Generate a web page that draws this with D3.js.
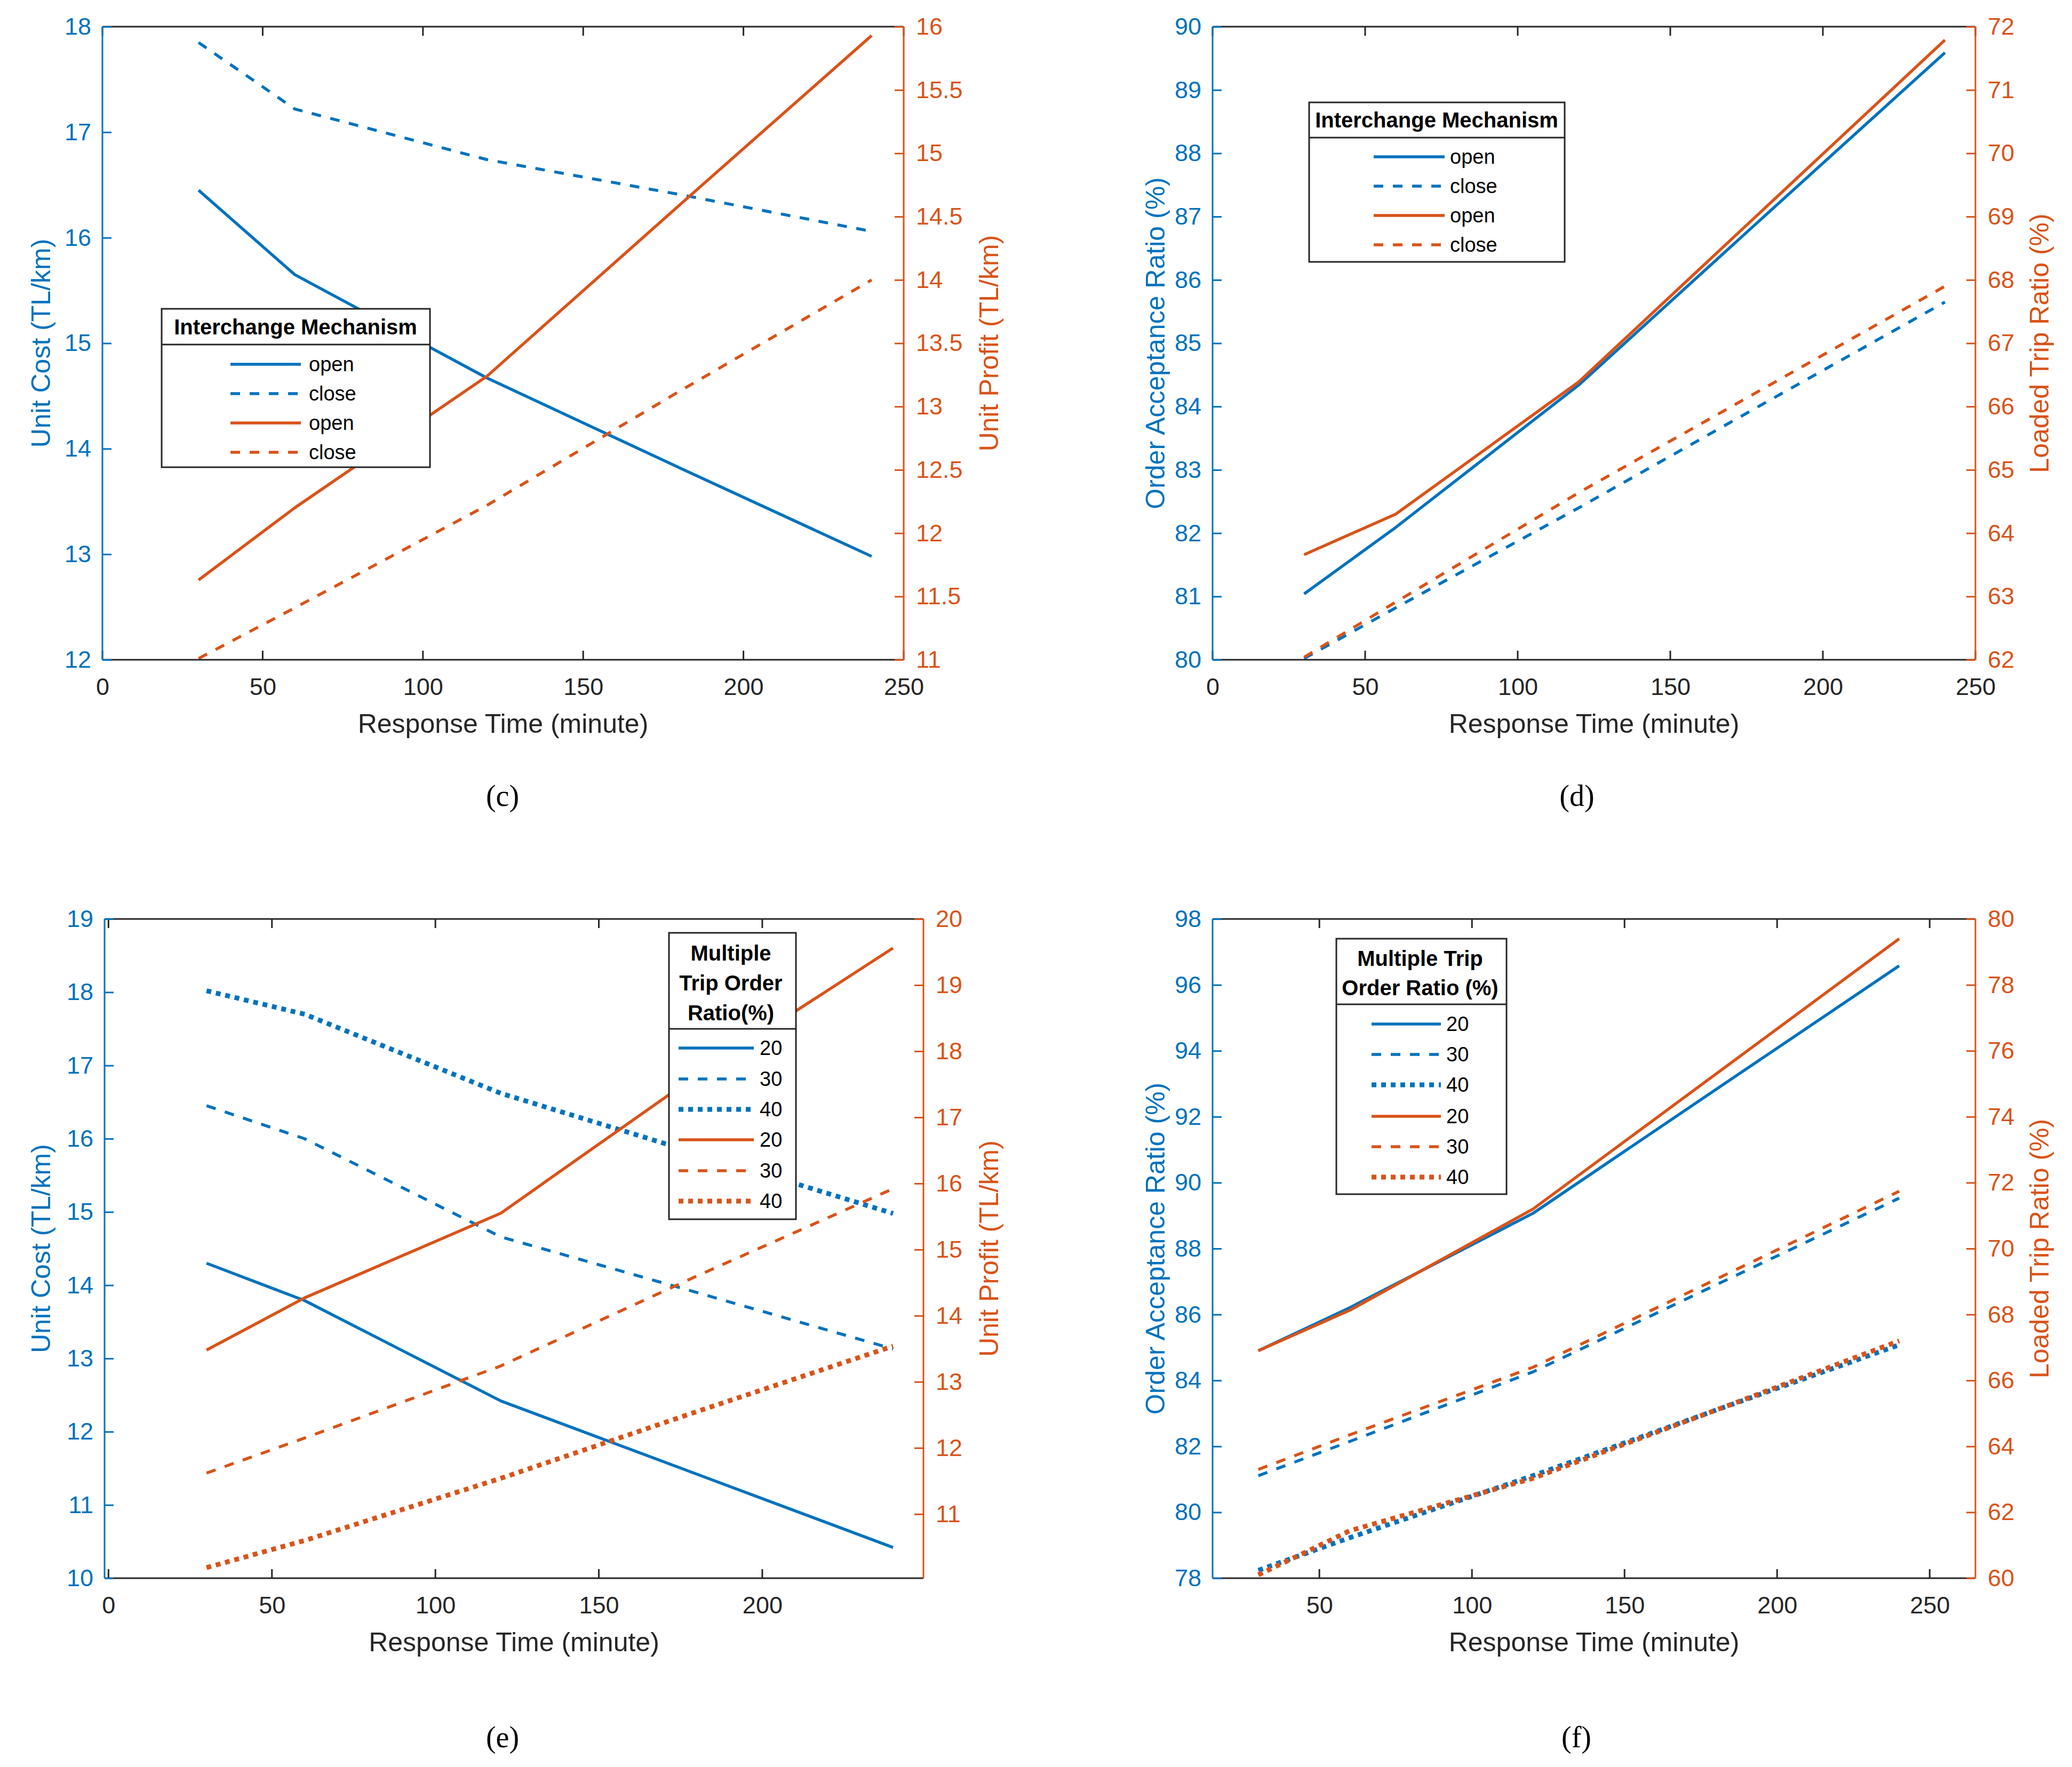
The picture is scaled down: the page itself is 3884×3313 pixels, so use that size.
<!DOCTYPE html>
<html><head><meta charset="utf-8">
<script src="https://cdn.jsdelivr.net/npm/d3@7"></script>
<style>body{margin:0;background:#fff} svg{display:block}</style>
</head><body>
<svg id="fig" width="3884" height="3313"></svg>
<script>
// ---------------- DATA ----------------
const responseTime = [30, 60, 120, 180, 240];

// (c) Unit cost / unit profit vs response time, interchange open/close
const cCostOpen    = [16.45, 15.65, 14.67, 13.82, 12.98];
const cCostClose   = [17.85, 17.22, 16.74, 16.41, 16.06];
const cProfitOpen  = [11.63, 12.20, 13.24, 14.59, 15.93];
const cProfitClose = [11.01, 11.41, 12.22, 13.12, 14.00];

// (d) Order acceptance / loaded trip ratio, interchange open/close
const dAccOpen   = [81.04, 82.09, 84.34, 86.97, 89.59];
const dAccClose  = [80.02, 80.82, 82.40, 84.03, 85.65];
const dLoadOpen  = [63.66, 64.30, 66.39, 69.09, 71.79];
const dLoadClose = [62.04, 62.91, 64.64, 66.27, 67.90];

// (e) Unit cost / unit profit, multiple trip order ratio 20/30/40
const eCost20   = [14.30, 13.79, 12.42, 11.42, 10.42];
const eCost30   = [16.45, 16.00, 14.66, 13.90, 13.13];
const eCost40   = [18.02, 17.70, 16.62, 15.80, 14.98];
const eProfit20 = [13.48, 14.27, 15.55, 17.64, 19.56];
const eProfit30 = [11.62, 12.15, 13.24, 14.60, 15.92];
const eProfit40 = [10.19, 10.60, 11.54, 12.55, 13.54];

// (f) Order acceptance / loaded trip ratio, multiple trip order ratio 20/30/40
const fAcc20  = [84.90, 86.21, 89.07, 92.83, 96.58];
const fAcc30  = [81.11, 82.15, 84.26, 86.90, 89.53];
const fAcc40  = [78.24, 79.23, 81.11, 83.10, 85.08];
const fLoad20 = [66.90, 68.13, 71.20, 75.30, 79.40];
const fLoad30 = [63.30, 64.35, 66.40, 69.07, 71.74];
const fLoad40 = [60.10, 61.44, 63.03, 65.10, 67.20];

const interchangeLabels = ["open", "close"];
const tripRatioLabels = ["20", "30", "40"];

// tick labels
const cXTicks = [0, 50, 100, 150, 200, 250];
const cLeftTicks = [12, 13, 14, 15, 16, 17, 18];
const cRightTicks = [11, 11.5, 12, 12.5, 13, 13.5, 14, 14.5, 15, 15.5, 16];
const dXTicks = [0, 50, 100, 150, 200, 250];
const dLeftTicks = [80, 81, 82, 83, 84, 85, 86, 87, 88, 89, 90];
const dRightTicks = [62, 63, 64, 65, 66, 67, 68, 69, 70, 71, 72];
const eXTicks = [0, 50, 100, 150, 200];
const eLeftTicks = [10, 11, 12, 13, 14, 15, 16, 17, 18, 19];
const eRightTicks = [11, 12, 13, 14, 15, 16, 17, 18, 19, 20];
const fXTicks = [50, 100, 150, 200, 250];
const fLeftTicks = [78, 80, 82, 84, 86, 88, 90, 92, 94, 96, 98];
const fRightTicks = [60, 62, 64, 66, 68, 70, 72, 74, 76, 78, 80];

// ---------------- STYLE ----------------
const BLUE = "#0072BD", ORANGE = "#D95319", DARK = "#262626";
const SANS = "'Liberation Sans', Arial, Helvetica, sans-serif";
const SERIF = "'Liberation Serif', 'Times New Roman', serif";
const STYLES = {
  solid:  {w: 5.5, dash: null},
  dashed: {w: 5.5, dash: "18,18"},
  dotted: {w: 9,   dash: "9,9"}
};

const svg = d3.select("#fig");
svg.append("rect").attr("width", 3884).attr("height", 3313).attr("fill", "#fff");

function panel(cfg) {
  const g = svg.append("g");
  const {L, R, T, B} = cfg.box;
  const x = d3.scaleLinear().domain(cfg.xDomain).range([L, R]);
  const yl = d3.scaleLinear().domain(cfg.leftDomain).range([B, T]);
  const yr = d3.scaleLinear().domain(cfg.rightDomain).range([B, T]);
  const TL = 17;

  // lines
  cfg.series.forEach(s => {
    const y = s.axis === "left" ? yl : yr;
    const st = STYLES[s.style];
    const line = d3.line().x((d, i) => x(responseTime[i])).y(d => y(d));
    g.append("path").datum(s.values)
      .attr("d", line).attr("fill", "none")
      .attr("stroke", s.axis === "left" ? BLUE : ORANGE)
      .attr("stroke-width", st.w)
      .attr("stroke-dasharray", st.dash)
      .attr("stroke-linejoin", "round");
  });

  // x axes (bottom + top, ticks inward)
  const xb = g.append("g").attr("transform", `translate(0,${B})`)
    .call(d3.axisBottom(x).tickValues(cfg.xTicks).tickSize(0).tickPadding(0).tickFormat(d3.format("d")));
  xb.select(".domain").remove();
  xb.selectAll("text").attr("y", 50).attr("dy", "0.35em")
    .attr("fill", DARK).attr("font-size", 45).attr("font-family", SANS);
  cfg.xTicks.forEach(t => {
    g.append("line").attr("x1", x(t)).attr("x2", x(t)).attr("y1", B).attr("y2", B - TL)
      .attr("stroke", DARK).attr("stroke-width", 3);
    g.append("line").attr("x1", x(t)).attr("x2", x(t)).attr("y1", T).attr("y2", T + TL)
      .attr("stroke", DARK).attr("stroke-width", 3);
  });
  g.append("line").attr("x1", L).attr("x2", R).attr("y1", B).attr("y2", B).attr("stroke", DARK).attr("stroke-width", 3);
  g.append("line").attr("x1", L).attr("x2", R).attr("y1", T).attr("y2", T).attr("stroke", DARK).attr("stroke-width", 3);

  // left axis
  const ay = g.append("g").attr("transform", `translate(${L},0)`)
    .call(d3.axisLeft(yl).tickValues(cfg.leftTicks).tickSize(-TL).tickPadding(21).tickFormat(d => d));
  ay.select(".domain").remove();
  ay.selectAll("line").attr("stroke", BLUE).attr("stroke-width", 3);
  ay.selectAll("text").attr("fill", BLUE).attr("font-size", 45).attr("font-family", SANS);
  g.append("line").attr("x1", L).attr("x2", L).attr("y1", T).attr("y2", B).attr("stroke", BLUE).attr("stroke-width", 3);

  // right axis
  const ar = g.append("g").attr("transform", `translate(${R},0)`)
    .call(d3.axisRight(yr).tickValues(cfg.rightTicks).tickSize(-TL).tickPadding(23).tickFormat(d => d));
  ar.select(".domain").remove();
  ar.selectAll("line").attr("stroke", ORANGE).attr("stroke-width", 3);
  ar.selectAll("text").attr("fill", ORANGE).attr("font-size", 45).attr("font-family", SANS);
  g.append("line").attr("x1", R).attr("x2", R).attr("y1", T).attr("y2", B).attr("stroke", ORANGE).attr("stroke-width", 3);

  // titles
  const cy = (T + B) / 2;
  g.append("text").attr("transform", `translate(${cfg.leftTitleX},${cy}) rotate(-90)`)
    .attr("text-anchor", "middle").attr("dominant-baseline", "central")
    .attr("fill", BLUE).attr("font-size", 50).attr("font-family", SANS).text(cfg.leftTitle);
  g.append("text").attr("transform", `translate(${cfg.rightTitleX},${cy}) rotate(-90)`)
    .attr("text-anchor", "middle").attr("dominant-baseline", "central")
    .attr("fill", ORANGE).attr("font-size", 50).attr("font-family", SANS).text(cfg.rightTitle);
  g.append("text").attr("x", (L + R) / 2).attr("y", B + 120)
    .attr("text-anchor", "middle").attr("dominant-baseline", "central")
    .attr("fill", DARK).attr("font-size", 50).attr("font-family", SANS).text("Response Time (minute)");
  g.append("text").attr("x", cfg.caption.x).attr("y", cfg.caption.y)
    .attr("text-anchor", "middle").attr("dominant-baseline", "central")
    .attr("fill", "#000").attr("font-size", 56).attr("font-family", SERIF).text(cfg.caption.text);

  // legend
  const lg = cfg.legend;
  const lgG = g.append("g");
  lgG.append("rect").attr("x", lg.x0).attr("y", lg.y0).attr("width", lg.x1 - lg.x0).attr("height", lg.y1 - lg.y0)
    .attr("fill", "#fff").attr("stroke", DARK).attr("stroke-width", 3);
  lgG.append("line").attr("x1", lg.x0).attr("x2", lg.x1).attr("y1", lg.sep).attr("y2", lg.sep)
    .attr("stroke", DARK).attr("stroke-width", 3);
  lg.title.forEach((t, i) => {
    lgG.append("text").attr("x", lg.titleX).attr("y", lg.titleY[i])
      .attr("text-anchor", "middle").attr("dominant-baseline", "central")
      .attr("font-weight", "bold").attr("font-size", 40).attr("font-family", SANS).attr("fill", "#000").text(t);
  });
  cfg.series.forEach((s, i) => {
    const st = STYLES[s.style];
    const yy = lg.rows[i];
    lgG.append("line").attr("x1", lg.lx0).attr("x2", lg.lx1).attr("y1", yy).attr("y2", yy)
      .attr("stroke", s.axis === "left" ? BLUE : ORANGE).attr("stroke-width", st.w)
      .attr("stroke-dasharray", st.dash);
    lgG.append("text").attr("x", lg.tx).attr("y", yy).attr("dominant-baseline", "central")
      .attr("font-size", 38).attr("font-family", SANS).attr("fill", "#000").text(s.label);
  });
}

// ---------------- PANELS ----------------
panel({
  box: {L: 192, R: 1694, T: 50, B: 1237},
  xDomain: [0, 250], leftDomain: [12, 18], rightDomain: [11, 16],
  xTicks: cXTicks, leftTicks: cLeftTicks, rightTicks: cRightTicks,
  leftTitle: "Unit Cost (TL/km)", rightTitle: "Unit Profit (TL/km)",
  leftTitleX: 77, rightTitleX: 1854,
  caption: {text: "(c)", x: 942, y: 1492},
  series: [
    {values: cCostOpen, axis: "left", style: "solid", label: interchangeLabels[0]},
    {values: cCostClose, axis: "left", style: "dashed", label: interchangeLabels[1]},
    {values: cProfitOpen, axis: "right", style: "solid", label: interchangeLabels[0]},
    {values: cProfitClose, axis: "right", style: "dashed", label: interchangeLabels[1]}
  ],
  legend: {x0: 303, x1: 806, y0: 579, y1: 876, sep: 646, title: ["Interchange Mechanism"], titleX: 554, titleY: [613],
           rows: [683, 738, 793, 848], lx0: 432, lx1: 564, tx: 579}
});

panel({
  box: {L: 2273, R: 3703, T: 50, B: 1237},
  xDomain: [0, 250], leftDomain: [80, 90], rightDomain: [62, 72],
  xTicks: dXTicks, leftTicks: dLeftTicks, rightTicks: dRightTicks,
  leftTitle: "Order Acceptance Ratio (%)", rightTitle: "Loaded Trip Ratio (%)",
  leftTitleX: 2166, rightTitleX: 3823,
  caption: {text: "(d)", x: 2956, y: 1492},
  series: [
    {values: dAccOpen, axis: "left", style: "solid", label: interchangeLabels[0]},
    {values: dAccClose, axis: "left", style: "dashed", label: interchangeLabels[1]},
    {values: dLoadOpen, axis: "right", style: "solid", label: interchangeLabels[0]},
    {values: dLoadClose, axis: "right", style: "dashed", label: interchangeLabels[1]}
  ],
  legend: {x0: 2454, x1: 2933, y0: 192, y1: 491, sep: 258, title: ["Interchange Mechanism"], titleX: 2693, titleY: [225],
           rows: [294, 349, 404, 459], lx0: 2575, lx1: 2708, tx: 2718}
});

panel({
  box: {L: 196, R: 1731, T: 1723, B: 2959},
  xDomain: [-1.2, 249.3], leftDomain: [10, 19], rightDomain: [10.03, 20],
  xTicks: eXTicks, leftTicks: eLeftTicks, rightTicks: eRightTicks,
  leftTitle: "Unit Cost (TL/km)", rightTitle: "Unit Profit (TL/km)",
  leftTitleX: 77, rightTitleX: 1854,
  caption: {text: "(e)", x: 942, y: 3257},
  series: [
    {values: eCost20, axis: "left", style: "solid", label: tripRatioLabels[0]},
    {values: eCost30, axis: "left", style: "dashed", label: tripRatioLabels[1]},
    {values: eCost40, axis: "left", style: "dotted", label: tripRatioLabels[2]},
    {values: eProfit20, axis: "right", style: "solid", label: tripRatioLabels[0]},
    {values: eProfit30, axis: "right", style: "dashed", label: tripRatioLabels[1]},
    {values: eProfit40, axis: "right", style: "dotted", label: tripRatioLabels[2]}
  ],
  legend: {x0: 1254, x1: 1492, y0: 1749, y1: 2286, sep: 1929, title: ["Multiple", "Trip Order", "Ratio(%)"], titleX: 1370,
           titleY: [1787, 1843, 1899], rows: [1965, 2023, 2080, 2137, 2195, 2252], lx0: 1272, lx1: 1413, tx: 1424}
});

panel({
  box: {L: 2273, R: 3703, T: 1723, B: 2959},
  xDomain: [15, 265], leftDomain: [78, 98], rightDomain: [60, 80],
  xTicks: fXTicks, leftTicks: fLeftTicks, rightTicks: fRightTicks,
  leftTitle: "Order Acceptance Ratio (%)", rightTitle: "Loaded Trip Ratio (%)",
  leftTitleX: 2166, rightTitleX: 3823,
  caption: {text: "(f)", x: 2955, y: 3257},
  series: [
    {values: fAcc20, axis: "left", style: "solid", label: tripRatioLabels[0]},
    {values: fAcc30, axis: "left", style: "dashed", label: tripRatioLabels[1]},
    {values: fAcc40, axis: "left", style: "dotted", label: tripRatioLabels[2]},
    {values: fLoad20, axis: "right", style: "solid", label: tripRatioLabels[0]},
    {values: fLoad30, axis: "right", style: "dashed", label: tripRatioLabels[1]},
    {values: fLoad40, axis: "right", style: "dotted", label: tripRatioLabels[2]}
  ],
  legend: {x0: 2505, x1: 2824, y0: 1760, y1: 2239, sep: 1883, title: ["Multiple Trip", "Order Ratio (%)"], titleX: 2662,
           titleY: [1797, 1852], rows: [1920, 1977, 2034, 2093, 2150, 2207], lx0: 2571, lx1: 2701, tx: 2711}
});
</script>
</body></html>
